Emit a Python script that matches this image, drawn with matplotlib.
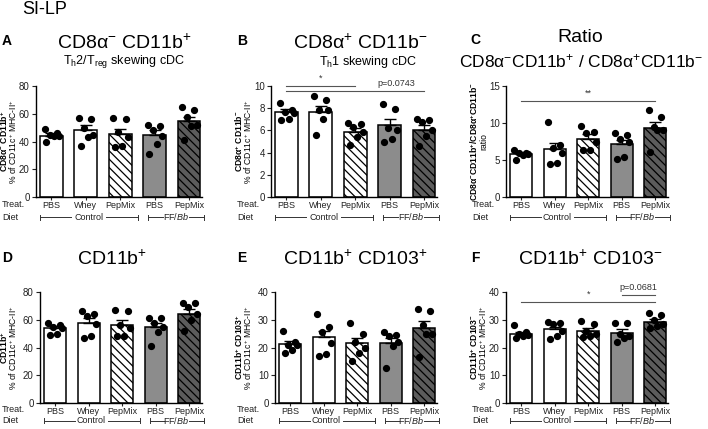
import numpy as np
import matplotlib
matplotlib.use("Agg")
import matplotlib.pyplot as plt
from matplotlib.transforms import blended_transform_factory

plt.rcParams['font.family'] = ['Liberation Sans', 'DejaVu Sans']
plt.rcParams['mathtext.fontset'] = 'custom'
plt.rcParams['mathtext.rm'] = 'Liberation Sans'
plt.rcParams['mathtext.it'] = 'Liberation Sans:italic'
plt.rcParams['mathtext.bf'] = 'Liberation Sans:bold'
plt.rcParams['mathtext.default'] = 'regular'
plt.rcParams['hatch.linewidth'] = 0.9

W, H = 708, 429

treatments = ["PBS", "Whey", "PepMix", "PBS", "PepMix"]

# individual mice per group, bar means and SEM
a_pts = [[49, 46, 45, 44, 44, 40], [57, 56, 50, 45, 43, 37], [57, 56, 47, 43, 37, 36],
         [52, 51, 48, 44, 38, 31], [65, 63, 58, 52, 51, 41]]
a_mean = [44, 48, 45.5, 45, 55]
a_sem = [2, 3.8, 3.8, 3, 3]

b_pts = [[8.5, 7.8, 7.7, 7.6, 7.0, 6.9], [9.1, 8.7, 7.8, 7.8, 7.0, 5.6], [6.7, 6.6, 6.3, 5.9, 5.4, 4.7],
         [8.4, 7.9, 6.2, 6.0, 5.2, 5.0], [7.0, 6.9, 6.8, 6.0, 5.5, 4.6]]
b_mean = [7.65, 7.7, 5.9, 6.5, 6.05]
b_sem = [0.25, 0.5, 0.35, 0.55, 0.4]

c_pts = [[6.3, 6.0, 5.9, 5.8, 5.7, 5.0], [10.1, 7.0, 6.6, 6.0, 4.6, 4.5], [9.6, 8.8, 8.7, 7.5, 6.4, 6.3],
         [8.7, 8.4, 7.8, 7.5, 5.4, 5.1], [11.8, 10.8, 9.5, 9.0, 9.0, 6.1]]
c_mean = [5.8, 6.5, 7.9, 7.1, 9.3]
c_sem = [0.2, 0.8, 0.6, 0.6, 0.8]

d_pts = [[58, 56, 55, 54, 50, 49], [66, 64, 63, 57, 48, 47], [67, 66, 56, 54, 48, 48],
         [61, 61, 58, 55, 51, 41], [72, 72, 69, 64, 60, 52]]
d_mean = [54, 57.8, 56, 54.5, 64.5]
d_sem = [1.5, 3.2, 3.5, 3, 3]

e_pts = [[26, 22, 21, 21, 19, 18], [32, 27.5, 25.5, 21.5, 17.5, 17], [29, 25, 22, 20, 18, 15],
         [25.6, 24.4, 24, 22, 20.5, 12.5], [34, 33, 28, 25, 25, 16.5]]
e_mean = [21.2, 23.7, 21.5, 21.7, 27]
e_sem = [1.1, 2.1, 2.1, 1.9, 2.5]

f_pts = [[28, 25.5, 25, 24.5, 24, 23.5], [29.2, 28.8, 28.5, 26, 24, 23], [29.6, 28.5, 26, 25, 24, 23.8],
         [29, 29, 25, 24, 23.5, 22], [32.4, 31.6, 30, 28.5, 27.6, 27]]
f_mean = [25, 26.5, 26, 25.3, 29.3]
f_sem = [0.7, 0.9, 1.0, 1.3, 0.9]

# significance bars: (label, from group, to group, height)
b_sig = [("*", 0, 2, 10.0), ("p=0.0743", 0, 4, 9.55)]
c_sig = [("**", 0, 4, 13.0)]
f_sig = [("*", 0, 4, 36.4), ("p=0.0681", 3, 4, 39.0)]

face = ["white", "white", "white", "#8c8c8c", "#5c5c5c"]
hatch = [None, None, "\\\\\\\\", None, "\\\\\\\\"]
jitter = [-0.2, 0.16, -0.05, 0.22, 0.06, -0.15]

fig = plt.figure(figsize=(W / 100, H / 100), dpi=100)


def ftxt(x, y, s, **kw):
    fig.text(x / W, 1 - y / H, s, **kw)


def panel(rect, col, pts, mean, sem, ymax, ystep, lab_bold, lab_norm, sig=None, diet_y=217, treat_y=205):
    l, t, w, h = rect
    ax = fig.add_axes([l / W, 1 - (t + h) / H, w / W, h / H])
    x = np.arange(5)
    for i in range(5):
        ax.bar(x[i], mean[i], width=0.66, color=face[i], edgecolor="black",
               linewidth=1.1, hatch=hatch[i], zorder=2)
    ax.errorbar(x, mean, yerr=[np.zeros(5), sem], fmt="none", ecolor="black",
                elinewidth=1, capsize=4, capthick=1, zorder=3)
    for i, p in enumerate(pts):
        ax.plot(x[i] + np.array(jitter[:len(p)]), p, "o", color="black", ms=4.2, zorder=4, clip_on=False)
    ax.set_xlim(-0.45, 4.38)
    ax.set_ylim(0, ymax)
    ax.set_yticks(np.arange(0, ymax + 0.01, ystep))
    ax.set_xticks(x)
    ax.set_xticklabels(treatments)
    for s in ["top", "right"]:
        ax.spines[s].set_visible(False)
    for s in ["left", "bottom"]:
        ax.spines[s].set_linewidth(1)
    ax.tick_params(axis="y", labelsize=7, length=3, width=0.8, pad=1.5, colors="#222222")
    ax.tick_params(axis="x", labelsize=6.5, length=2.5, width=0.8, pad=0.2, colors="#222222")

    if sig:
        for s, i0, i1, yv in sig:
            ax.plot([i0, i1], [yv, yv], color="#555555", lw=0.8, clip_on=False)
            xc = (i0 + i1) / 2
            if s.startswith("p") and i1 - i0 > 1:
                xc = 3.2
            ax.text(xc, yv + ymax * 0.025, s, ha="center", va="bottom", fontsize=6.5, color="#333333")

    # diet brackets, line broken around the label
    tr = blended_transform_factory(ax.transData, fig.transFigure)
    yy = 1 - diet_y / H
    dy = 2.5 / H
    for (x0, x1, xc, gap, s) in [(-0.32, 2.53, 1.08, 0.5, "Control"),
                                 (2.82, 4.44, 3.62, 0.38, "FF/$\\mathit{Bb}$")]:
        ax.plot([x0, xc - gap], [yy, yy], color="#333333", lw=0.7, transform=tr, clip_on=False)
        ax.plot([xc + gap, x1], [yy, yy], color="#333333", lw=0.7, transform=tr, clip_on=False)
        for xe in (x0, x1):
            ax.plot([xe, xe], [yy - dy, yy + dy], color="#333333", lw=0.7, transform=tr, clip_on=False)
        ax.text(xc, yy, s, ha="center", va="center", fontsize=6.5, transform=tr, color="#222222")
    ftxt(col + 2, treat_y, "Treat.", fontsize=6.5, va="center", color="#222222")
    ftxt(col + 2, diet_y, "Diet", fontsize=6.5, va="center", color="#222222")

    yc = t + h / 2
    ftxt(col + 4.5, yc, lab_bold, rotation=90, ha="center", va="center", fontsize=6.2)
    ftxt(col + 13.5, yc, lab_norm, rotation=90, ha="center", va="center", fontsize=6.2)
    return ax


pct = "% of CD11c$^{+}$ MHC-II$^{+}$"
panel((36, 86, 166, 111), 0, a_pts, a_mean, a_sem, 80, 20,
      r"$\mathbf{CD8α^{-}\ CD11b^{+}}$", pct)
panel((271, 86, 166, 111), 235, b_pts, b_mean, b_sem, 10, 2,
      r"$\mathbf{CD8α^{+}\ CD11b^{-}}$", pct, sig=b_sig)
panel((506, 86, 162, 111), 470, c_pts, c_mean, c_sem, 15, 5,
      r"$\mathbf{CD8α^{-}CD11b^{+}/CD8α^{+}CD11b^{-}}$", "ratio", sig=c_sig)
panel((40, 292, 162, 111), 0, d_pts, d_mean, d_sem, 80, 20,
      r"$\mathbf{CD11b^{+}}$", pct, diet_y=420.5, treat_y=410)
panel((275, 292, 162, 111), 235, e_pts, e_mean, e_sem, 40, 10,
      r"$\mathbf{CD11b^{+}\ CD103^{+}}$", pct, diet_y=420.5, treat_y=410)
panel((506, 292, 162, 111), 470, f_pts, f_mean, f_sem, 40, 10,
      r"$\mathbf{CD11b^{+}\ CD103^{-}}$", pct, sig=f_sig, diet_y=420.5, treat_y=410)

ftxt(22, 10, "SI-LP", fontsize=13, va="center")
for letter, x, y in [("A", 7, 41), ("B", 242, 41), ("C", 475, 40),
                     ("D", 7, 258), ("E", 242, 258), ("F", 475, 258)]:
    ftxt(x, y, letter, fontsize=10, fontweight="bold", ha="center", va="center")

ftxt(124, 43, r"CD8α$^{-}$ CD11b$^{+}$", fontsize=14, ha="center", va="center")
ftxt(124, 62, r"T$_{h}$2/T$_{reg}$ skewing cDC", fontsize=9, ha="center", va="center")
ftxt(360, 43, r"CD8α$^{+}$ CD11b$^{-}$", fontsize=14, ha="center", va="center")
ftxt(368, 62, r"T$_{h}$1 skewing cDC", fontsize=9, ha="center", va="center")
ftxt(580, 38, "Ratio", fontsize=14, ha="center", va="center")
ftxt(581, 61, r"CD8α$^{-}$CD11b$^{+}$ / CD8α$^{+}$CD11b$^{-}$", fontsize=12.5, ha="center", va="center")
ftxt(112, 259, r"CD11b$^{+}$", fontsize=14, ha="center", va="center")
ftxt(355, 259, r"CD11b$^{+}$ CD103$^{+}$", fontsize=14, ha="center", va="center")
ftxt(590, 259, r"CD11b$^{+}$ CD103$^{-}$", fontsize=14, ha="center", va="center")

fig.savefig("out.png", dpi=100)
